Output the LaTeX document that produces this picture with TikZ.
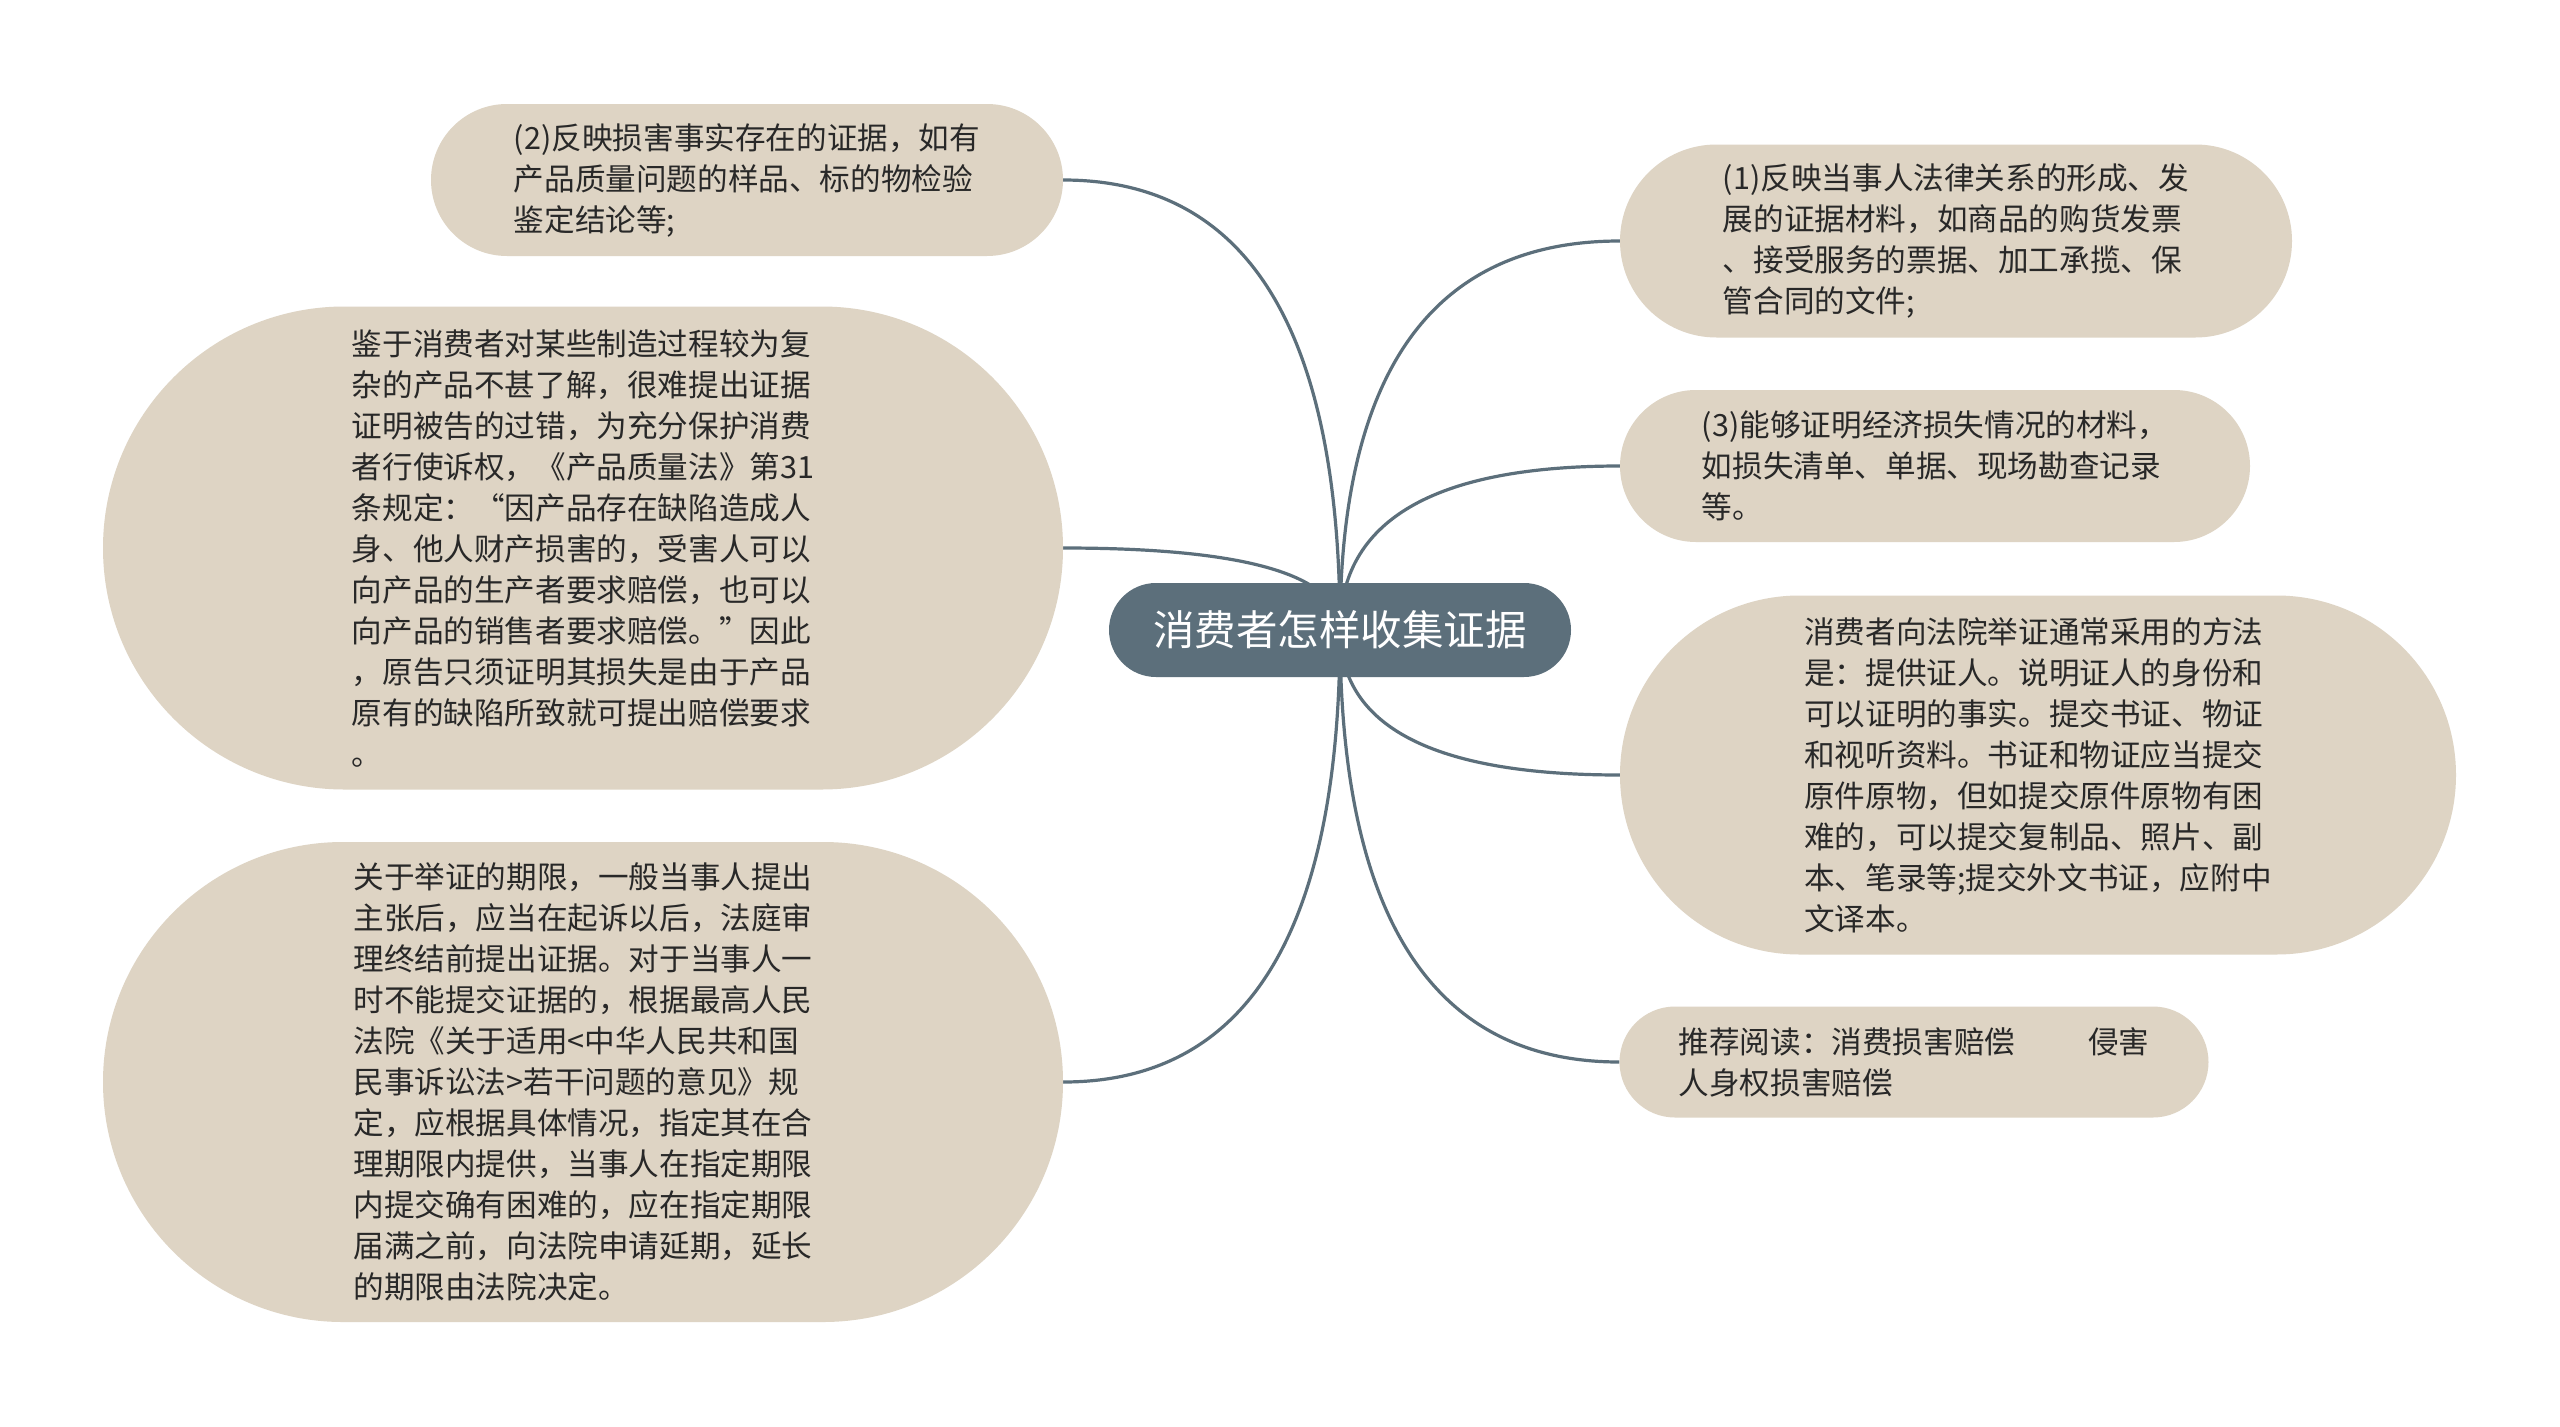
\documentclass[tikz,border=0pt]{standalone}
\usepackage{fontspec}
\setmainfont{Noto Sans CJK SC}
\usetikzlibrary{shapes.misc,calc,backgrounds}
\definecolor{leafcol}{RGB}{222,212,196}
\definecolor{hubcol}{RGB}{92,111,123}
\definecolor{inkcol}{RGB}{40,40,40}
\begin{document}
\begin{tikzpicture}[x=1pt,y=-1pt,
  leafbox/.style={rounded rectangle, fill=leafcol, text=inkcol, inner sep=0pt, align=left, font=\fontsize{30.6}{41}\selectfont},
  hubbox/.style={rounded rectangle, fill=hubcol, text=white, inner sep=0pt, font=\fontsize{41.5}{48}\selectfont},
  link/.style={draw=hubcol, line width=3.2pt}]
\useasboundingbox (0,0) rectangle (2560,1427);
\node[hubbox, minimum width=462pt, minimum height=94pt] (c) at (1340,630) {消费者怎样收集证据};
\node[leafbox, minimum width=632pt, minimum height=152pt] (n2) at (747,180) {(2)反映损害事实存在的证据，如有\\产品质量问题的样品、标的物检验\\鉴定结论等;};
\node[leafbox, minimum width=960pt, minimum height=483pt] (b1) at (583,548) {鉴于消费者对某些制造过程较为复\\杂的产品不甚了解，很难提出证据\\证明被告的过错，为充分保护消费\\者行使诉权，《产品质量法》第31\\条规定：“因产品存在缺陷造成人\\身、他人财产损害的，受害人可以\\向产品的生产者要求赔偿，也可以\\向产品的销售者要求赔偿。”因此\\，原告只须证明其损失是由于产品\\原有的缺陷所致就可提出赔偿要求\\。};
\node[leafbox, minimum width=960pt, minimum height=480pt] (b2) at (583,1082) {关于举证的期限，一般当事人提出\\主张后，应当在起诉以后，法庭审\\理终结前提出证据。对于当事人一\\时不能提交证据的，根据最高人民\\法院《关于适用<中华人民共和国\\民事诉讼法>若干问题的意见》规\\定，应根据具体情况，指定其在合\\理期限内提供，当事人在指定期限\\内提交确有困难的，应在指定期限\\届满之前，向法院申请延期，延长\\的期限由法院决定。};
\node[leafbox, minimum width=672pt, minimum height=193pt] (n1) at (1956,241) {(1)反映当事人法律关系的形成、发\\展的证据材料，如商品的购货发票\\、接受服务的票据、加工承揽、保\\管合同的文件;};
\node[leafbox, minimum width=630pt, minimum height=152pt] (n3) at (1935,466) {(3)能够证明经济损失情况的材料，\\如损失清单、单据、现场勘查记录\\等。};
\node[leafbox, minimum width=836pt, minimum height=359pt] (b3) at (2038,775) {消费者向法院举证通常采用的方法\\是：提供证人。说明证人的身份和\\可以证明的事实。提交书证、物证\\和视听资料。书证和物证应当提交\\原件原物，但如提交原件原物有困\\难的，可以提交复制品、照片、副\\本、笔录等;提交外文书证，应附中\\文译本。};
\node[leafbox, minimum width=589pt, minimum height=111pt] (tj) at (1914,1062) {推荐阅读：消费损害赔偿\hspace{73pt}侵害\\人身权损害赔偿};
\begin{scope}[on background layer]
\fill[white] (0,0) rectangle (2560,1427);
\foreach \n/\a in {n2/east,b1/east,b2/east,n1/west,n3/west,b3/west,tj/west}{
  \coordinate (q) at (c.center |- \n.\a);
  \draw[link] (c.center) .. controls ($(c.center)!2/3!(q)$) and ($(\n.\a)!2/3!(q)$) .. (\n.\a);
}
\end{scope}
\end{tikzpicture}
\end{document}
